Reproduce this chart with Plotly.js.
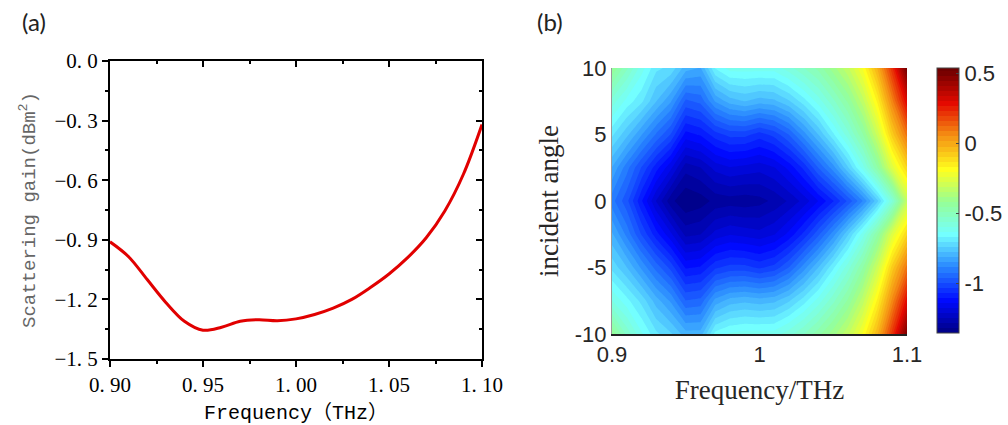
<!DOCTYPE html>
<html>
<head>
<meta charset="utf-8">
<script src="https://cdn.plot.ly/plotly-3.0.1.min.js"></script>
<style>html,body{margin:0;padding:0;background:#fff;}#chart{width:1008px;height:425px;}</style>
</head>
<body>
<div id="chart"></div>
<script>
// ---- Panel (a): scattering gain vs frequency ----
const freqA = [0.90,0.91,0.92,0.93,0.94,0.95,0.96,0.97,0.98,0.99,1.00,1.01,1.02,1.03,1.04,1.05,1.06,1.07,1.08,1.09,1.10];
const gainA = [-0.91,-0.985,-1.10,-1.215,-1.31,-1.355,-1.34,-1.31,-1.302,-1.307,-1.298,-1.276,-1.244,-1.200,-1.140,-1.072,-0.990,-0.890,-0.755,-0.570,-0.320];
const xTickValsA = [0.90,0.95,1.00,1.05,1.10];
const xTickTextA = ['0. 90','0. 95','1. 00','1. 05','1. 10'];
const yTickValsA = [0,-0.3,-0.6,-0.9,-1.2,-1.5];
const yTickTextA = ['0. 0','\u22120. 3','\u22120. 6','\u22120. 9','\u22121. 2','\u22121. 5'];

// ---- Panel (b): map over frequency and incident angle ----
const freqB = [0.90,0.91,0.92,0.93,0.94,0.95,0.96,0.97,0.98,0.99,1.00,1.01,1.02,1.03,1.04,1.05,1.06,1.07,1.08,1.09,1.10];
const angleB = [-10,-7.5,-5,-2.5,0,2.5,5,7.5,10];
const rowM10 = [-0.42,-0.54,-0.63,-0.70,-0.74,-0.80,-0.80,-0.66,-0.63,-0.62,-0.62,-0.62,-0.58,-0.53,-0.47,-0.40,-0.32,-0.20,-0.03,0.21,0.50];
const rowM75 = [-0.60,-0.66,-0.72,-0.80,-0.86,-0.96,-0.95,-0.84,-0.80,-0.79,-0.80,-0.79,-0.75,-0.69,-0.62,-0.54,-0.45,-0.33,-0.16,0.06,0.29];
const rowM5  = [-0.72,-0.78,-0.86,-0.94,-1.01,-1.11,-1.10,-1.04,-1.02,-1.02,-1.04,-1.02,-0.96,-0.87,-0.78,-0.68,-0.58,-0.46,-0.30,-0.08,0.10];
const rowM25 = [-0.81,-0.90,-1.00,-1.09,-1.17,-1.26,-1.25,-1.20,-1.18,-1.19,-1.20,-1.18,-1.13,-1.06,-0.97,-0.87,-0.75,-0.62,-0.46,-0.26,-0.10];
const row0   = [-0.91,-0.985,-1.10,-1.215,-1.31,-1.355,-1.34,-1.31,-1.302,-1.307,-1.298,-1.276,-1.244,-1.200,-1.140,-1.072,-0.990,-0.890,-0.755,-0.570,-0.320];
const rowP25 = [-0.82,-0.91,-1.00,-1.09,-1.17,-1.27,-1.25,-1.20,-1.18,-1.19,-1.20,-1.18,-1.13,-1.06,-0.96,-0.87,-0.75,-0.62,-0.46,-0.26,-0.10];
const rowP5  = [-0.70,-0.77,-0.85,-0.93,-1.00,-1.12,-1.10,-1.05,-1.02,-1.02,-1.05,-1.02,-0.96,-0.87,-0.78,-0.68,-0.58,-0.46,-0.30,-0.08,0.10];
const rowP75 = [-0.58,-0.65,-0.70,-0.78,-0.85,-0.97,-0.95,-0.85,-0.80,-0.78,-0.80,-0.79,-0.75,-0.69,-0.62,-0.54,-0.45,-0.33,-0.16,0.07,0.30];
const rowP10 = [-0.42,-0.52,-0.62,-0.70,-0.72,-0.80,-0.82,-0.67,-0.62,-0.62,-0.62,-0.62,-0.58,-0.53,-0.48,-0.40,-0.32,-0.20,-0.02,0.22,0.52];
const gainB = [rowM10,rowM75,rowM5,rowM25,row0,rowP25,rowP5,rowP75,rowP10];
const xTickValsB = [0.9,1.0,1.1];
const xTickTextB = ['0.9','1','1.1'];
const yTickValsB = [-10,-5,0,5,10];
const yTickTextB = ['-10','-5','0','5','10'];
const cbTickVals = [0.5,0,-0.5,-1];
const cbTickText = ['0.5','0','-0.5','-1'];

const jet = [[0,'rgb(0,0,130)'],[0.125,'rgb(0,10,255)'],[0.25,'rgb(40,135,255)'],[0.375,'rgb(115,255,255)'],
             [0.5,'rgb(150,255,150)'],[0.625,'rgb(255,255,30)'],[0.75,'rgb(245,145,20)'],[0.875,'rgb(228,10,0)'],[1,'rgb(112,0,0)']];
const zMin = -1.357, zMax = 0.536;

const W = 1008, H = 425;
const px = v => v / W, py = v => 1 - v / H;

const data = [
  {type:'scatter', mode:'lines', x:freqA, y:gainA, xaxis:'x', yaxis:'y',
   line:{color:'rgb(225,0,0)', width:3, shape:'spline', smoothing:1}, hoverinfo:'skip', showlegend:false},
  {type:'scatter', mode:'lines', x:[], y:[], xaxis:'x3', yaxis:'y', showlegend:false},
  {type:'scatter', mode:'lines', x:[], y:[], xaxis:'x', yaxis:'y3', showlegend:false},
  {type:'contour', x:freqB, y:angleB, z:gainB, xaxis:'x2', yaxis:'y2',
   colorscale:jet, zauto:false, zmin:zMin, zmax:zMax,
   autocontour:false, contours:{start:zMin, end:zMax, size:0.036, coloring:'fill', showlines:false},
   line:{width:0, smoothing:0},
   colorbar:{x:px(937), xanchor:'left', y:py(68), yanchor:'top', len:265, lenmode:'pixels',
     thickness:22, thicknessmode:'pixels', xpad:0, ypad:0, outlinewidth:1, outlinecolor:'#444',
     tickmode:'array', tickvals:cbTickVals, ticktext:cbTickText, ticks:'inside', ticklen:3, tickcolor:'#444',
     tickfont:{family:'Liberation Sans, Arial, sans-serif', size:22, color:'#262626'}},
   showscale:true}
];

const serifA = {family:'Liberation Serif, Times New Roman, serif', size:21, color:'#000'};
const layout = {
  width:W, height:H, margin:{l:0,r:0,t:0,b:0}, paper_bgcolor:'#fff', plot_bgcolor:'rgba(0,0,0,0)',
  showlegend:false,
  xaxis:{domain:[px(110),px(482)], anchor:'y', range:[0.9,1.1], tickmode:'array', tickvals:xTickValsA, ticktext:xTickTextA,
    ticks:'outside', ticklen:6, tickwidth:2, tickcolor:'#000', showline:true, linewidth:2, linecolor:'#000', mirror:true,
    minor:{ticks:'outside', ticklen:3, tickwidth:2, tickcolor:'#000', tickmode:'linear', tick0:0.9, dtick:0.025, showgrid:false},
    showgrid:false, zeroline:false, tickfont:serifA,
    title:{text:'Frequency\uFF08THz\uFF09', font:{family:'Liberation Mono, Noto Sans CJK SC, monospace', size:20, color:'#000'}, standoff:9}},
  yaxis:{domain:[py(359),py(61)], anchor:'x', range:[-1.5,0], tickmode:'array', tickvals:yTickValsA, ticktext:yTickTextA,
    ticks:'outside', ticklen:6, tickwidth:2, tickcolor:'#000', showline:true, linewidth:2, linecolor:'#000', mirror:true,
    minor:{ticks:'outside', ticklen:3, tickwidth:2, tickcolor:'#000', tickmode:'linear', tick0:0, dtick:0.15, showgrid:false},
    showgrid:false, zeroline:false, tickfont:serifA,
    title:{text:'\u00A0\u00A0Scattering gain(dBm<sup>2</sup>)', font:{family:'Liberation Mono, monospace', size:19, color:'#666'}, standoff:14}},
  xaxis3:{overlaying:'x', anchor:'y', side:'top', range:[0.9,1.1], tickmode:'array', tickvals:xTickValsA,
    ticks:'inside', ticklen:6, tickwidth:2, tickcolor:'#000', showticklabels:false, showline:false, showgrid:false, zeroline:false,
    minor:{ticks:'inside', ticklen:3, tickwidth:2, tickcolor:'#000', tickmode:'linear', tick0:0.9, dtick:0.025, showgrid:false}},
  yaxis3:{overlaying:'y', anchor:'x', side:'right', range:[-1.5,0], tickmode:'array', tickvals:yTickValsA,
    ticks:'inside', ticklen:6, tickwidth:2, tickcolor:'#000', showticklabels:false, showline:false, showgrid:false, zeroline:false,
    minor:{ticks:'inside', ticklen:3, tickwidth:2, tickcolor:'#000', tickmode:'linear', tick0:0, dtick:0.15, showgrid:false}},
  xaxis2:{domain:[px(612),px(907)], anchor:'y2', range:[0.9,1.1], tickmode:'array', tickvals:xTickValsB, ticktext:xTickTextB,
    ticks:'', showline:true, linewidth:2, linecolor:'#222', showgrid:false, zeroline:false,
    tickfont:{family:'Liberation Sans, Arial, sans-serif', size:22, color:'#262626'},
    title:{text:'Frequency/THz', font:{family:'Liberation Serif, Times New Roman, serif', size:27, color:'#262626'}, standoff:14}},
  yaxis2:{domain:[py(334),py(68)], anchor:'x2', range:[-10,10], tickmode:'array', tickvals:yTickValsB, ticktext:yTickTextB,
    ticks:'', showline:true, linewidth:1, linecolor:'#999', showgrid:false, zeroline:false,
    tickfont:{family:'Liberation Sans, Arial, sans-serif', size:22, color:'#262626'},
    title:{text:'incident angle', font:{family:'Liberation Serif, Times New Roman, serif', size:27, color:'#262626'}, standoff:8}},
  annotations:[
    {text:'(a)', xref:'paper', yref:'paper', x:px(34), y:py(22), xanchor:'center', yanchor:'middle', showarrow:false,
     font:{family:'Lato, Open Sans, sans-serif', size:24, color:'#222'}},
    {text:'(b)', xref:'paper', yref:'paper', x:px(550), y:py(22), xanchor:'center', yanchor:'middle', showarrow:false,
     font:{family:'Lato, Open Sans, sans-serif', size:24, color:'#222'}}
  ]
};
Plotly.newPlot('chart', data, layout, {staticPlot:true, displayModeBar:false});
</script>
</body>
</html>
